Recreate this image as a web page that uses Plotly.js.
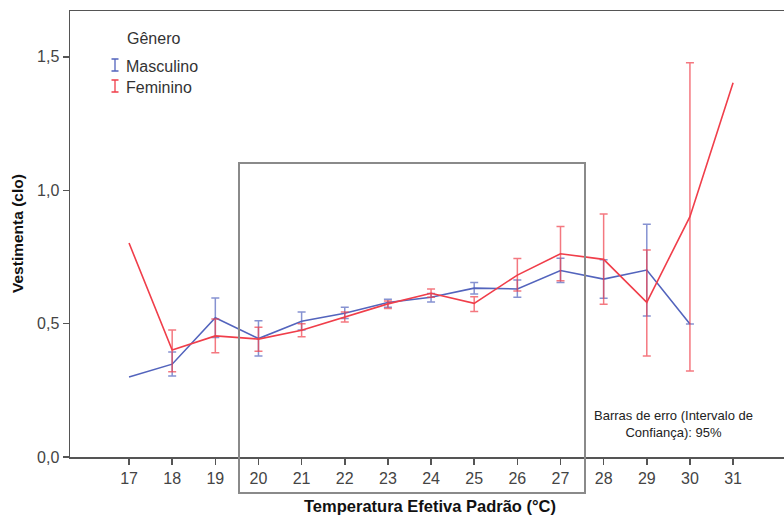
<!DOCTYPE html>
<html>
<head>
<meta charset="utf-8">
<script src="https://cdn.plot.ly/plotly-3.0.1.min.js"></script>
<style>html,body{margin:0;padding:0;background:#fff;}#chart{width:784px;height:515px;}</style>
</head>
<body>
<div id="chart"></div>
<script>
// Temperature categories (°C)
const temps = [17, 18, 19, 20, 21, 22, 23, 24, 25, 26, 27, 28, 29, 30, 31];
// Masculino: mean and 95% CI bounds
const mascMean  = [0.30, 0.348, 0.522, 0.444, 0.509, 0.539, 0.579, 0.599, 0.633, 0.630, 0.699, 0.667, 0.701, 0.499, null];
const mascLower = [null, 0.304, 0.448, 0.379, 0.476, 0.519, 0.561, 0.581, 0.611, 0.599, 0.654, 0.595, 0.529, 0.499, null];
const mascUpper = [null, 0.394, 0.596, 0.511, 0.544, 0.561, 0.591, 0.613, 0.654, 0.664, 0.745, 0.739, 0.873, 0.499, null];
// Feminino: mean and 95% CI bounds
const femMean  = [0.802, 0.401, 0.454, 0.442, 0.475, 0.524, 0.574, 0.614, 0.576, 0.682, 0.762, 0.741, 0.580, 0.901, 1.403];
const femLower = [null, 0.320, 0.391, 0.396, 0.451, 0.506, 0.557, 0.599, 0.545, 0.622, 0.661, 0.573, 0.379, 0.322, null];
const femUpper = [null, 0.476, 0.517, 0.486, 0.500, 0.544, 0.585, 0.630, 0.601, 0.744, 0.864, 0.911, 0.776, 1.478, null];
// Axis tick values / labels
const xTicks = temps;
const yTickVals = [0, 0.5, 1.0, 1.5];
const yTickText = ['0,0', '0,5', '1,0', '1,5'];

const plus = (m, u) => m.map((v, i) => (u[i] == null || v == null) ? NaN : u[i] - v);
const minus = (m, l) => m.map((v, i) => (l[i] == null || v == null) ? NaN : v - l[i]);

const BLUE = '#5364bd';
const RED = '#f03e4a';

const traces = [
  {
    x: temps, y: mascMean, type: 'scatter', mode: 'lines', name: 'Masculino',
    line: {color: BLUE, width: 1.6},
    error_y: {type: 'data', symmetric: false, array: plus(mascMean, mascUpper), arrayminus: minus(mascMean, mascLower),
              color: 'rgba(83,100,189,0.7)', thickness: 1.5, width: 4},
    showlegend: false, hoverinfo: 'skip'
  },
  {
    x: temps, y: femMean, type: 'scatter', mode: 'lines', name: 'Feminino',
    line: {color: RED, width: 1.6},
    error_y: {type: 'data', symmetric: false, array: plus(femMean, femUpper), arrayminus: minus(femMean, femLower),
              color: 'rgba(240,62,74,0.7)', thickness: 1.5, width: 4},
    showlegend: false, hoverinfo: 'skip'
  }
];

const L = 70, T = 11, W = 714, H = 446;
const px = x => (x - L) / W;
const py = y => (T + H - y) / H;

function icon(xc, y0, y1, color) {
  const hw = 3.5;
  return {type: 'path', xref: 'paper', yref: 'paper',
    path: `M${px(xc-hw)},${py(y0)} L${px(xc+hw)},${py(y0)} M${px(xc)},${py(y0)} L${px(xc)},${py(y1)} M${px(xc-hw)},${py(y1)} L${px(xc+hw)},${py(y1)}`,
    line: {color: color, width: 1.3}};
}

const font = 'Liberation Sans, Arial, sans-serif';
const layout = {
  width: 784, height: 515,
  margin: {l: L, r: 0, t: T, b: 58},
  paper_bgcolor: '#fff', plot_bgcolor: '#fff',
  separators: ',.',
  showlegend: false,
  font: {family: font, size: 16, color: '#444'},
  xaxis: {
    range: [15.632, 32.18], tickvals: xTicks, ticktext: xTicks.map(String),
    showgrid: false, zeroline: false, showline: true, linecolor: '#555', linewidth: 1.5,
    mirror: true, ticks: 'outside', ticklen: 6, tickwidth: 1.5, tickcolor: '#555',
    tickfont: {family: font, size: 16, color: '#444'}
  },
  yaxis: {
    range: [0, 1.672], tickvals: yTickVals, ticktext: yTickText,
    showgrid: false, zeroline: false, showline: true, linecolor: '#555', linewidth: 1.5,
    ticks: 'outside', ticklen: 6, tickwidth: 1.5, tickcolor: '#555',
    tickfont: {family: font, size: 16, color: '#444'}
  },
  shapes: [
    {type: 'rect', xref: 'paper', yref: 'paper', x0: px(239), x1: px(585), y0: py(493), y1: py(163),
     line: {color: '#8a8a8a', width: 2}, fillcolor: 'rgba(0,0,0,0)', layer: 'above'},
    icon(115, 59, 71, BLUE),
    icon(115, 80, 92, RED)
  ],
  annotations: [
    {xref: 'paper', yref: 'paper', x: px(125), y: py(39), xanchor: 'left', yanchor: 'middle', showarrow: false,
     text: 'Gênero', font: {family: font, size: 16, color: '#333'}},
    {xref: 'paper', yref: 'paper', x: px(124), y: py(66), xanchor: 'left', yanchor: 'middle', showarrow: false,
     text: 'Masculino', font: {family: font, size: 16, color: '#333'}},
    {xref: 'paper', yref: 'paper', x: px(124), y: py(87), xanchor: 'left', yanchor: 'middle', showarrow: false,
     text: 'Feminino', font: {family: font, size: 16, color: '#333'}},
    {xref: 'paper', yref: 'paper', x: px(673), y: py(424), xanchor: 'center', yanchor: 'middle', showarrow: false,
     text: 'Barras de erro (Intervalo de<br>Confiança): 95%', font: {family: font, size: 13, color: '#222'}},
    {xref: 'paper', yref: 'paper', x: px(430), y: py(506), xanchor: 'center', yanchor: 'middle', showarrow: false,
     text: '<b>Temperatura Efetiva Padrão (°C)</b>', font: {family: font, size: 16.5, color: '#111'}},
    {xref: 'paper', yref: 'paper', x: px(17), y: py(234), xanchor: 'center', yanchor: 'middle', showarrow: false,
     textangle: -90, text: '<b>Vestimenta (clo)</b>', font: {family: font, size: 15.5, color: '#111'}}
  ]
};

Plotly.newPlot('chart', traces, layout, {staticPlot: true, displayModeBar: false});
</script>
</body>
</html>
